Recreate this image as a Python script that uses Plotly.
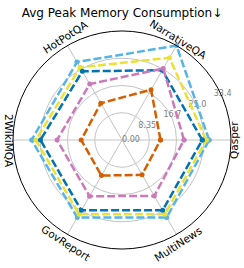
import plotly.graph_objects as go

categories = ["Qasper", "NarrativeQA", "HotPotQA", "2WikiMQA", "GovReport", "MultiNews"]
series_names = ["Method 1", "Method 2", "Method 3", "Method 4", "Method 5"]
series_values = [
    [26.7, 33.4, 27.6, 27.7, 27.4, 27.4],   # light blue
    [25.8, 29.1, 25.7, 26.4, 26.3, 26.3],   # yellow
    [24.6, 24.7, 24.3, 25.0, 24.9, 24.9],   # dark blue
    [19.0, 25.3, 19.8, 19.9, 19.9, 19.8],   # pink
    [11.8, 17.8, 13.0, 12.5, 12.6, 12.3],   # orange
]
series_colors = ["#56B4E9", "#ECE133", "#0173B2", "#CC78BC", "#D55E00"]
r_max = 33.4
tick_vals = [0, 8.35, 16.7, 25.05, 33.4]
tick_text = ["0.00", "8.35", "16.7", "25.0", "33.4"]
rlabel_angle = 22.5

W, H = 244, 268
cx, cy, R = 122, 140, 109

n = len(categories)
angles = [i * 360 / n for i in range(n)]

fig = go.Figure()

# radial tick labels, horizontal, along the 22.5 degree ray (drawn beneath the lines)
fig.add_trace(go.Scatterpolar(
    r=tick_vals, theta=[rlabel_angle] * len(tick_vals), text=tick_text,
    mode="text", textposition=["middle right"] + ["top center"] * (len(tick_vals) - 1),
    cliponaxis=False,
    textfont=dict(family="DejaVu Sans", size=8, color="#808080"),
    hoverinfo="skip", showlegend=False,
))

for name, vals, col in zip(series_names, series_values, series_colors):
    fig.add_trace(go.Scatterpolar(
        r=vals + vals[:1], theta=angles + angles[:1],
        mode="lines+markers", name=name,
        line=dict(color=col, width=2.5, dash="8px,3px"),
        marker=dict(color=col, size=5),
    ))

# angular labels (rotated along the tangent like the reference)
label_pos = [
    (234, 140, -90), (178, 39, 32), (65, 37, -33),
    (9, 141, 90), (66, 243, 33), (178, 244, -33),
]
annotations = []
for cat, (px, py, ang) in zip(categories, label_pos):
    annotations.append(dict(
        text=cat, x=px / W, y=1 - py / H, xref="paper", yref="paper",
        showarrow=False, textangle=ang, xanchor="center", yanchor="middle",
        font=dict(family="DejaVu Sans", size=10.5, color="black"),
    ))

fig.update_layout(
    width=W, height=H,
    margin=dict(l=0, r=0, t=0, b=0),
    paper_bgcolor="white",
    showlegend=False,
    title=dict(text="Avg Peak Memory Consumption↓", x=0.5, xanchor="center",
               y=1 - 12.5 / H, yanchor="middle",
               font=dict(family="DejaVu Sans", size=12, color="black")),
    annotations=annotations,
    polar=dict(
        domain=dict(x=[(cx - R) / W, (cx + R) / W], y=[1 - (cy + R) / H, 1 - (cy - R) / H]),
        bgcolor="white",
        angularaxis=dict(type="linear", thetaunit="degrees", rotation=0,
                         direction="counterclockwise",
                         tickmode="array", tickvals=angles, ticktext=categories,
                         showline=True, linecolor="black", linewidth=1,
                         gridcolor="#c4c4c4", gridwidth=0.8,
                         showticklabels=False, ticks=""),
        radialaxis=dict(range=[0, r_max], tickvals=tick_vals,
                        showticklabels=False, showline=False, ticks="",
                        gridcolor="#c4c4c4", gridwidth=0.8),
    ),
)
fig.write_html("out.html", config={"displayModeBar": False},
               post_script="document.body.style.margin='0px';")
